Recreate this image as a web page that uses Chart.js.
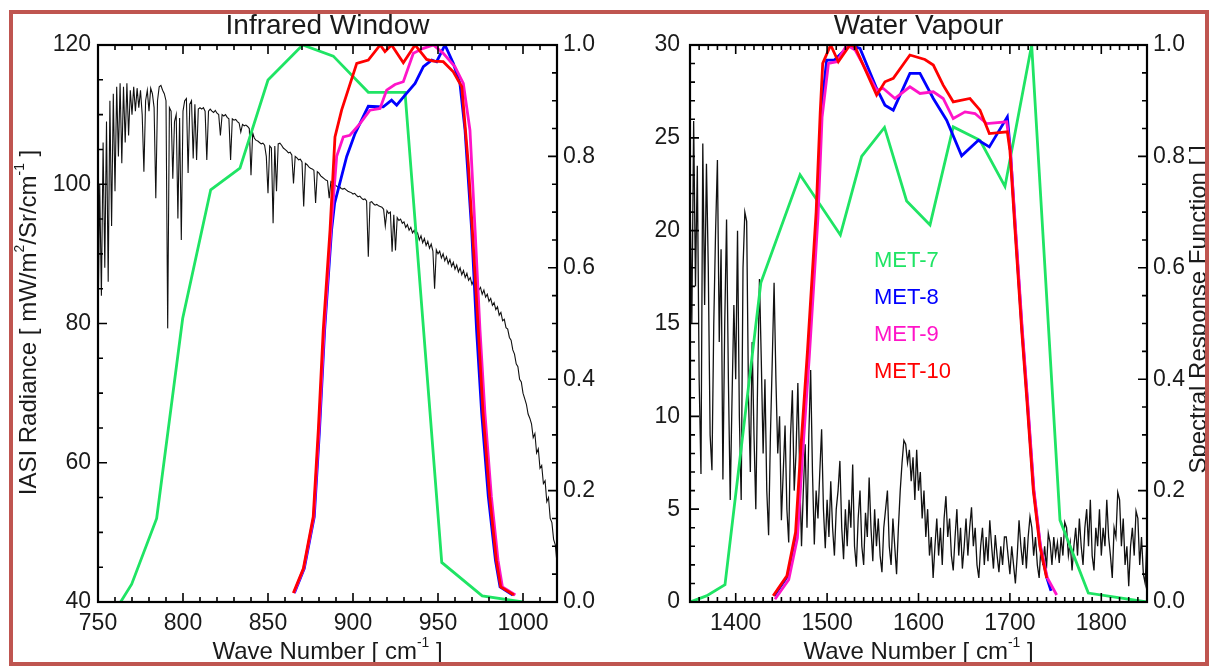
<!DOCTYPE html>
<html>
<head>
<meta charset="utf-8">
<script src="https://cdn.jsdelivr.net/npm/chart.js@4.4.1/dist/chart.umd.min.js"></script>
<style>
  html, body { margin: 0; padding: 0; background: #fff; }
  #page { position: relative; width: 1209px; height: 666px; overflow: hidden; background: #fff; }
  canvas { position: absolute; top: 0; }
  #ir { left: 0; width: 620px; height: 666px; }
  #wv { left: 620px; width: 589px; height: 666px; }
  #frame { position: absolute; left: 9px; top: 10px; width: 1200px; height: 656px; box-sizing: border-box;
           border: 4px solid #bf5550; pointer-events: none; }
</style>
</head>
<body>
<div id="page">
  <canvas id="ir" width="620" height="666"></canvas>
  <canvas id="wv" width="589" height="666"></canvas>
  <div id="frame"></div>
</div>
<script>
// ---- Infrared window panel ----
// IASI radiance, 750..1020 cm-1, one value per cm-1
var irWaveStart = 750, irWaveStep = 1;
var irRadiance = [
  79, 100, 84, 106, 88, 109, 86, 112, 94, 113,
  99, 114, 104, 114.5, 103, 114, 106, 114.5, 107, 113.5,
  110, 114, 110.5, 113.8, 111, 113.5, 110, 101.8, 112, 113.5,
  110.5, 113.8, 113, 111, 98, 112, 114, 114.2, 113.5, 113,
  112, 79.3, 111, 110.5, 100.8, 109, 110, 95.1, 109.5, 92,
  110.5, 112, 112.3, 101.6, 111.5, 112, 103.7, 111.5, 103.5, 110.8,
  111, 110.8, 111, 110.5, 103.5, 110.5, 110.8, 110.5, 110.3, 110.6,
  110.2, 110, 107, 110, 109.8, 110, 109.6, 109.4, 103.5, 109.4,
  109.2, 109.3, 109, 108.8, 107.5, 108.6, 108.4, 108.5, 108.3, 108,
  101.3, 107.4, 106.6, 106.3, 106.2, 106, 105.8, 105.9, 105.6, 104,
  98.7, 105.5, 105.2, 94.4, 105.5, 99, 105.8, 105.9, 105.6, 105.2,
  105, 104.8, 104.5, 104.6, 104.2, 100.1, 104, 103.8, 103.5, 103.6,
  103.2, 96.8, 103, 102.8, 102.5, 102.3, 102.2, 102, 97.3, 101.8,
  101.6, 101.2, 101, 100.8, 100.6, 100.5, 98, 100.4, 100.2, 100,
  99.8, 99.6, 99.7, 99.4, 99.3, 99.4, 99.2, 99, 98.9, 98.8,
  98.6, 98.7, 98.4, 98.2, 98.3, 98, 97.8, 97.9, 97.6, 89.6,
  97.4, 97.5, 97.2, 97, 97.1, 96.9, 96.8, 96.7, 96.4, 94,
  96.2, 95.8, 96, 90.3, 95.6, 90.5, 95.2, 94.8, 95, 94.4,
  94.6, 93.8, 94.2, 93.4, 93.8, 93, 93.4, 92.6, 93, 92,
  92.6, 91.6, 92.2, 91.2, 91.8, 90.8, 91.4, 90.4, 85, 90.6,
  90, 90.4, 89.4, 90, 89, 89.6, 88.6, 89.2, 88.2, 88.8,
  87.8, 88.4, 87.4, 88, 87, 87.6, 86.6, 87.2, 86.2, 86.6,
  85.6, 86.2, 85.2, 85.8, 84.8, 85.2, 84.2, 84.8, 83.8, 84.2,
  83.2, 83.6, 82.6, 83, 82, 82.4, 81.2, 81.6, 80.4, 80.6,
  79.4, 79.2, 78, 77.6, 76.2, 75.6, 74.2, 73.8, 72, 71.6,
  70, 69.2, 68.4, 67, 66.4, 65.6, 63.6, 64.2, 61.4, 62,
  59.2, 59.6, 57, 57.4, 54.4, 55, 52, 51.4, 49, 48.2,
  45.6
];

var met7IrWave = [763.3, 769.8, 784.5, 799.8, 816.3, 833.5, 850, 870.4, 888.4, 909, 930.6, 952.2, 976, 999.8];
var met7IrSrf  = [0, 0.032, 0.15, 0.509, 0.74, 0.779, 0.937, 1.0, 0.98, 0.915, 0.915, 0.071, 0.011, 0];

var met8IrWave = [865.5, 871.3, 877.2, 880.3, 883.3, 887.4, 889.2, 896.3, 901.2, 909, 917.8, 922.7, 925.7, 930.6, 936.5,
                  941.4, 946.3, 949.2, 954.1, 959, 962.9, 965.9, 969.8, 972.7, 975.7, 979.6, 983.8, 986.5, 994];
var met8IrSrf  = [0.016, 0.06, 0.153, 0.309, 0.488, 0.668, 0.716, 0.8, 0.841, 0.89, 0.889, 0.901, 0.892, 0.91, 0.931,
                  0.961, 0.973, 0.97, 1.0, 0.967, 0.931, 0.847, 0.668, 0.488, 0.339, 0.189, 0.075, 0.027, 0.0126];

var met9IrWave = [865.2, 871, 876.9, 880, 883, 887, 890.4, 894.3, 898.2, 904.1, 910, 915.9, 919.8, 924.7, 929.6,
                  935.5, 941.4, 947.3, 953.1, 960, 964.9, 968.8, 971.8, 974.7, 977.6, 981.4, 985.3, 987.9, 995.5];
var met9IrSrf  = [0.016, 0.06, 0.153, 0.309, 0.488, 0.668, 0.8, 0.835, 0.838, 0.859, 0.883, 0.886, 0.919, 0.929, 0.934,
                  0.985, 0.994, 1.0, 0.985, 0.961, 0.931, 0.847, 0.668, 0.488, 0.339, 0.189, 0.075, 0.027, 0.0126];

var met10IrWave = [864.9, 870.8, 876.6, 879.6, 882.5, 886.5, 889.4, 893.3, 902.2, 909, 916, 918.8, 922.7, 929.6,
                   936.5, 943.3, 947.3, 953.1, 959, 964, 967.8, 970.8, 973.7, 976.5, 980.4, 984.3, 986.9, 994.7];
var met10IrSrf  = [0.016, 0.06, 0.153, 0.309, 0.488, 0.668, 0.835, 0.883, 0.967, 0.973, 1.0, 0.988, 1.0, 0.968,
                   1.0, 0.974, 0.971, 0.97, 0.952, 0.925, 0.787, 0.638, 0.488, 0.339, 0.189, 0.075, 0.027, 0.0126];

// ---- Water vapour panel ----
// IASI radiance, 1350..1850 cm-1, one value every 2 cm-1
var wvWaveStart = 1350, wvWaveStep = 2;
var wvRadiance = [
  22, 15, 25.9, 17, 23.5, 12, 6.9, 24.7, 16, 23.6,
  18, 9, 7.1, 15, 20, 23.8, 14, 19, 6.6, 15,
  20.6, 12, 5.5, 11, 16, 12, 20, 10, 5.5, 18,
  21, 20.5, 11, 7, 14, 9, 5, 12, 17.4, 13,
  8, 12, 6, 3.6, 9, 13, 17.2, 12, 8, 10,
  4.4, 7, 9.5, 5, 3.2, 9, 11.4, 6, 8, 11.8,
  7, 3, 6, 8.5, 4, 9, 12.5, 7, 3.1, 6,
  4.5, 7, 9.3, 5, 2.9, 5.5, 3.5, 6.5, 4, 2.5,
  5, 6, 7.6, 4, 2.3, 5, 3, 5.5, 4, 7.4,
  3, 1.9, 4.5, 6, 3, 2, 4.8, 3.5, 6.7, 4,
  2.2, 5, 3, 4.5, 2.5, 1.6, 4, 5, 6, 3,
  2, 4.5, 3, 1.5, 4, 6, 7.5, 8.7, 8.5, 7.5,
  8.2, 6.5, 7.8, 5.5, 8.2, 6, 7, 4.5, 6, 3.5,
  5, 2.5, 3.5, 1.3, 3, 4.5, 2.5, 4, 2, 4.5,
  5.7, 3.5, 4.5, 2.5, 1.7, 3.5, 5, 2.5, 4, 1.8,
  3, 4.5, 2.5, 4, 5.1, 3, 4, 2, 1.3, 3,
  4, 2, 3.5, 2.2, 4.4, 3, 1.8, 3.6, 2.5, 1.6,
  3, 2, 3.5, 3.5, 2.5, 1.5, 3, 2, 1, 2.5,
  4.4, 3, 2, 3.5, 1.8, 3.5, 4.6, 4, 2.5, 3.5,
  2, 1.3, 3, 2, 3, 1.8, 3.7, 3.2, 2, 3.5,
  2.5, 3.2, 2.1, 3.5, 2.5, 4.3, 4, 2.5, 3.2, 1.7,
  3, 4, 2.5, 4.5, 3, 2, 4, 5, 3, 5.5,
  2.5, 1.7, 4, 3, 5, 2.5, 4, 3, 5.5, 3.5,
  2.5, 1.3, 4, 3.5, 5.9, 5.5, 3, 4.5, 2, 3,
  0.85, 3, 4, 2.5, 4.9, 4.5, 2, 3.5, 1.5, 1.0,
  3.5
];

var met7WvWave = [1350, 1368, 1388.3, 1427.5, 1470.4, 1514.5, 1537.8, 1562.8, 1587, 1612.6, 1638, 1667.3, 1694.6,
                  1723.8, 1754.8, 1785.8, 1849.7];
var met7WvSrf  = [0, 0.011, 0.031, 0.573, 0.767, 0.659, 0.8, 0.852, 0.72, 0.677, 0.853, 0.829, 0.746,
                  1.0, 0.147, 0.016, 0];

var met8WvWave = [1442, 1457, 1466.5, 1472, 1479.5, 1489, 1493.5, 1499.5, 1508, 1525, 1536, 1554.2, 1563.3, 1572.4,
                  1590.6, 1601.6, 1616.2, 1630.8, 1647.2, 1665.5, 1677.5, 1697.2, 1700.5, 1706, 1713.3, 1718.7,
                  1726, 1733.3, 1740.5, 1745];
var met8WvSrf  = [0.011, 0.047, 0.125, 0.27, 0.45, 0.7, 0.88, 0.973, 0.973, 1.0, 0.994, 0.922, 0.892, 0.883,
                  0.949, 0.949, 0.904, 0.865, 0.801, 0.829, 0.817, 0.871, 0.811, 0.668, 0.488, 0.369,
                  0.201, 0.099, 0.043, 0.02];

var met9WvWave = [1443, 1458, 1467.5, 1473, 1480.5, 1490, 1494.5, 1501.5, 1510.6, 1521.6, 1530.7, 1541.6, 1554.2,
                  1561.5, 1574.3, 1590.6, 1601.6, 1616.2, 1627, 1638, 1650.9, 1661.8, 1674.6, 1696.5, 1700.5,
                  1706.3, 1713.6, 1719, 1726.3, 1733.6, 1741, 1751.2];
var met9WvSrf  = [0.005, 0.04, 0.115, 0.26, 0.44, 0.69, 0.87, 0.967, 0.97, 1.0, 0.991, 0.958, 0.919,
                  0.922, 0.904, 0.925, 0.913, 0.916, 0.904, 0.868, 0.88, 0.877, 0.859, 0.862, 0.811,
                  0.668, 0.488, 0.369, 0.201, 0.099, 0.043, 0.0126];

var met10WvWave = [1441, 1456, 1465.5, 1471, 1478.5, 1488, 1492.5, 1495.2, 1503.9, 1512.3, 1525, 1530.5, 1554.2,
                   1563.3, 1572.4, 1590.6, 1607, 1616.2, 1627, 1638, 1656.3, 1667.3, 1677.5, 1697.2, 1700,
                   1705.6, 1712.9, 1718.3, 1725.6, 1732.9, 1740.2];
var met10WvSrf  = [0.011, 0.047, 0.125, 0.27, 0.45, 0.7, 0.88, 0.967, 1.0, 0.97, 1.0, 0.997, 0.91,
                   0.934, 0.94, 0.982, 0.974, 0.964, 0.928, 0.898, 0.904, 0.883, 0.841, 0.844, 0.811,
                   0.668, 0.488, 0.369, 0.201, 0.099, 0.043];

var seriesNames = ['MET-7', 'MET-8', 'MET-9', 'MET-10'];
var seriesColors = ['#1fe464', '#0000ff', '#ff14c8', '#ff0000'];

var FONT = '"Liberation Sans", Arial, Helvetica, sans-serif';

function isMultiple(v, step) {
  var r = v / step;
  return Math.abs(r - Math.round(r)) < 1e-6;
}

function pairs(xs, ys) {
  return xs.map(function (x, i) { return { x: x, y: ys[i] }; });
}

function gridPairs(start, step, ys) {
  return ys.map(function (y, i) { return { x: start + i * step, y: y }; });
}

function srfSet(label, color, xs, ys, order) {
  return {
    label: label, data: pairs(xs, ys), yAxisID: 'srf', showLine: true,
    borderColor: color, borderWidth: 2.8, pointRadius: 0, tension: 0, order: order
  };
}

// text with superscripts, centred on (cx, cy)
function drawRich(ctx, parts, cx, cy, size, rot) {
  ctx.save();
  ctx.translate(cx, cy);
  ctx.rotate(rot || 0);
  ctx.fillStyle = '#1a1a1a';
  ctx.textBaseline = 'alphabetic';
  ctx.textAlign = 'left';
  var w = 0;
  parts.forEach(function (p) {
    ctx.font = (p.sup ? size * 0.58 : size) + 'px ' + FONT;
    w += ctx.measureText(p.t).width;
  });
  var x = -w / 2;
  parts.forEach(function (p) {
    var s = p.sup ? size * 0.58 : size;
    ctx.font = s + 'px ' + FONT;
    ctx.fillText(p.t, x, p.sup ? size * 0.36 - size * 0.5 : size * 0.36);
    x += ctx.measureText(p.t).width;
  });
  ctx.restore();
}

var idlFrame = {
  id: 'idlFrame',
  afterDraw: function (chart, args, o) {
    var ctx = chart.ctx, a = chart.chartArea, sx = chart.scales.x, sr = chart.scales.rad, ss = chart.scales.srf;
    ctx.save();
    ctx.strokeStyle = '#000';
    ctx.lineWidth = 1.6;
    ctx.beginPath();
    sx.ticks.forEach(function (t) {
      var p = sx.getPixelForValue(t.value);
      var len = isMultiple(t.value, o.xMajor) ? 9 : 5;
      ctx.moveTo(p, a.bottom); ctx.lineTo(p, a.bottom - len);
      ctx.moveTo(p, a.top); ctx.lineTo(p, a.top + len);
    });
    sr.ticks.forEach(function (t) {
      var p = sr.getPixelForValue(t.value);
      var len = isMultiple(t.value, o.radMajor) ? 9 : 5;
      ctx.moveTo(a.left, p); ctx.lineTo(a.left + len, p);
    });
    ss.ticks.forEach(function (t) {
      var p = ss.getPixelForValue(t.value);
      var len = isMultiple(t.value, 0.2) ? 9 : 5;
      ctx.moveTo(a.right, p); ctx.lineTo(a.right - len, p);
    });
    ctx.stroke();
    ctx.lineWidth = 2.2;
    ctx.strokeRect(a.left, a.top, a.right - a.left, a.bottom - a.top);
    ctx.restore();

    var cx = (a.left + a.right) / 2, cy = (a.top + a.bottom) / 2;
    drawRich(ctx, [{ t: o.title }], cx, 24, 28, 0);
    drawRich(ctx, [{ t: 'Wave Number [ cm' }, { t: '-1', sup: true }, { t: ' ]' }], cx, 650, 24, 0);
    if (o.leftTitle) drawRich(ctx, o.leftTitle, o.leftTitleX, cy - 1, 24, -Math.PI / 2);
    if (o.rightTitle) drawRich(ctx, o.rightTitle, o.rightTitleX, cy - 14, 24, -Math.PI / 2);
    if (o.legend) {
      ctx.save();
      ctx.font = '22px ' + FONT;
      ctx.textAlign = 'left';
      ctx.textBaseline = 'alphabetic';
      seriesNames.forEach(function (name, i) {
        ctx.fillStyle = seriesColors[i];
        ctx.fillText(name, a.left + 184, a.top + 222 + i * 37);
      });
      ctx.restore();
    }
  }
};
Chart.register(idlFrame);

function panelOptions(p) {
  var tf = { family: FONT, size: 23 };
  return {
    responsive: false,
    devicePixelRatio: 1,
    animation: false,
    events: [],
    layout: { padding: { top: 45, left: 0, right: 0, bottom: 0 } },
    plugins: { legend: { display: false }, tooltip: { enabled: false }, idlFrame: p.frame },
    scales: {
      x: {
        type: 'linear', position: 'bottom', min: p.xMin, max: p.xMax,
        grid: { display: false, drawTicks: false }, border: { display: false },
        ticks: {
          stepSize: 10, maxTicksLimit: 1000, autoSkip: false, maxRotation: 0, minRotation: 0,
          padding: 8, color: '#1a1a1a', font: tf,
          callback: function (v) { return isMultiple(v, p.frame.xMajor) ? String(v) : ''; }
        },
        afterFit: function (s) { s.height = 64; }
      },
      rad: {
        type: 'linear', position: 'left', min: p.radMin, max: p.radMax,
        grid: { display: false, drawTicks: false }, border: { display: false },
        ticks: {
          stepSize: p.radStep, maxTicksLimit: 1000, autoSkip: false, padding: p.radPad,
          color: '#1a1a1a', font: tf,
          callback: function (v) { return isMultiple(v, p.frame.radMajor) ? String(v) : ''; }
        },
        afterFit: function (s) { s.width = p.radWidth; }
      },
      srf: {
        type: 'linear', position: 'right', min: 0, max: 1,
        grid: { display: false, drawTicks: false }, border: { display: false },
        ticks: {
          stepSize: 0.05, maxTicksLimit: 1000, autoSkip: false, padding: 6, color: '#1a1a1a', font: tf,
          callback: function (v) { return isMultiple(v, 0.2) ? v.toFixed(1) : ''; }
        },
        afterFit: function (s) { s.width = p.srfWidth; }
      }
    }
  };
}

new Chart(document.getElementById('ir'), {
  type: 'scatter',
  data: {
    datasets: [
      srfSet('MET-10', seriesColors[3], met10IrWave, met10IrSrf, 0),
      srfSet('MET-9', seriesColors[2], met9IrWave, met9IrSrf, 1),
      srfSet('MET-8', seriesColors[1], met8IrWave, met8IrSrf, 2),
      srfSet('MET-7', seriesColors[0], met7IrWave, met7IrSrf, 3),
      {
        label: 'IASI', data: gridPairs(irWaveStart, irWaveStep, irRadiance), yAxisID: 'rad', showLine: true,
        borderColor: '#111', borderWidth: 1.1, pointRadius: 0, tension: 0, order: 4
      }
    ]
  },
  options: panelOptions({
    xMin: 750, xMax: 1020, radMin: 40, radMax: 120, radStep: 5, radPad: 7, radWidth: 98, srfWidth: 63,
    frame: {
      xMajor: 50, radMajor: 20, title: 'Infrared Window',
      leftTitle: [{ t: 'IASI Radiance [ mW/m' }, { t: '2', sup: true }, { t: '/Sr/cm' }, { t: '-1', sup: true }, { t: ' ]' }],
      leftTitleX: 27
    }
  })
});

new Chart(document.getElementById('wv'), {
  type: 'scatter',
  data: {
    datasets: [
      srfSet('MET-10', seriesColors[3], met10WvWave, met10WvSrf, 0),
      srfSet('MET-9', seriesColors[2], met9WvWave, met9WvSrf, 1),
      srfSet('MET-8', seriesColors[1], met8WvWave, met8WvSrf, 2),
      srfSet('MET-7', seriesColors[0], met7WvWave, met7WvSrf, 3),
      {
        label: 'IASI', data: gridPairs(wvWaveStart, wvWaveStep, wvRadiance), yAxisID: 'rad', showLine: true,
        borderColor: '#111', borderWidth: 1.3, pointRadius: 0, tension: 0, order: 4
      }
    ]
  },
  options: panelOptions({
    xMin: 1350, xMax: 1850, radMin: 0, radMax: 30, radStep: 1, radPad: 10, radWidth: 70, srfWidth: 62,
    frame: {
      xMajor: 100, radMajor: 5, title: 'Water Vapour',
      rightTitle: [{ t: 'Spectral Response Function [ ]' }],
      rightTitleX: 577, legend: true
    }
  })
});
</script>
</body>
</html>
